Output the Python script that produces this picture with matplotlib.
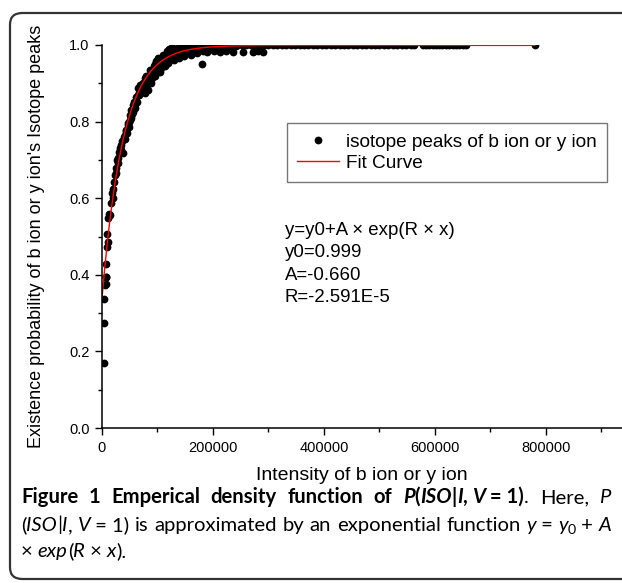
import re
import numpy as np
import matplotlib
matplotlib.use("Agg")
import matplotlib.pyplot as plt
from matplotlib.patches import FancyBboxPatch
from matplotlib.transforms import IdentityTransform

plt.rcParams['font.family'] = ['Liberation Sans', 'DejaVu Sans']

# isotope peaks, intensity in thousands and existence probability
peak_x_k = [3, 4, 4, 8, 8, 6.6, 5, 6.6, 8.4, 10, 8.5, 11, 12.6, 14, 16, 18.6, 20, 19,
            22, 24.6, 23, 26, 28, 27, 29, 31, 32, 35, 36, 38, 34, 39, 41, 43, 44, 46,
            47, 49, 50, 52, 53, 55, 56, 58, 59, 60, 62, 63, 65, 66, 68, 69, 71, 72,
            74, 75, 77, 77, 79, 80, 81, 83, 84, 86, 87, 88, 90, 92, 94, 95, 97, 98,
            100, 101, 103, 105, 107, 109, 110, 112, 113, 115, 117, 119, 120, 122,
            125, 126, 128, 130, 131, 133, 135, 137, 139, 141, 143, 146, 148, 150,
            152, 155, 158, 161, 164, 168, 172, 176, 180, 182, 186, 189, 193, 197,
            201, 206, 212, 218, 224, 230, 236, 242, 254, 272, 281, 290,
            42, 45, 48, 51, 54, 57, 61, 64, 67, 70, 73, 76, 78, 82, 85, 89, 91, 93,
            96, 99, 102, 104, 106, 108, 111, 114, 116, 118, 121, 124, 127, 129, 132,
            134, 136, 138, 140, 144, 147, 151, 154, 157, 160, 166, 170, 175]
peak_y = [0.17, 0.274, 0.337, 0.376, 0.394, 0.395, 0.373, 0.428, 0.473, 0.486, 0.507,
          0.548, 0.559, 0.555, 0.587, 0.613, 0.624, 0.60, 0.643, 0.665, 0.66, 0.679,
          0.692, 0.70, 0.705, 0.72, 0.731, 0.739, 0.75, 0.718, 0.725, 0.76, 0.765,
          0.775, 0.778, 0.79, 0.796, 0.80, 0.817, 0.83, 0.81, 0.843, 0.825, 0.852,
          0.835, 0.845, 0.865, 0.85, 0.887, 0.87, 0.896, 0.875, 0.892, 0.88, 0.90,
          0.885, 0.875, 0.914, 0.905, 0.92, 0.895, 0.882, 0.91, 0.922, 0.935, 0.90,
          0.915, 0.93, 0.945, 0.92, 0.935, 0.957, 0.94, 0.965, 0.95, 0.93, 0.94,
          0.96, 0.975, 0.95, 0.944, 0.97, 0.985, 0.953, 0.99, 0.97, 0.965, 0.995,
          0.987, 0.96, 0.97, 0.99, 0.975, 0.991, 0.965, 0.995, 0.978, 0.985, 0.97,
          0.995, 0.98, 0.982, 0.99, 0.975, 0.995, 0.987, 0.98, 0.995, 0.95, 0.985,
          0.991, 0.983, 0.995, 0.991, 0.985, 0.998, 0.983, 0.998, 0.985, 0.998,
          0.982, 0.998, 0.983, 0.982, 0.984, 0.982,
          0.755, 0.77, 0.785, 0.805, 0.82, 0.84, 0.855, 0.87, 0.875, 0.885, 0.895,
          0.90, 0.895, 0.905, 0.915, 0.925, 0.935, 0.94, 0.95, 0.945, 0.955, 0.96,
          0.945, 0.965, 0.96, 0.965, 0.975, 0.98, 0.975, 0.985, 0.975, 0.985, 0.98,
          0.985, 0.99, 0.98, 0.99, 0.985, 0.99, 0.99, 0.985, 0.99, 0.995, 0.99,
          0.993, 0.99]

# peaks that sit on the 1.0 line
top_x_k = [180, 188, 196, 204, 212, 220, 228, 236, 244, 252, 260, 268, 276, 284, 292,
           300, 308, 316, 324, 332, 340, 348, 356, 364, 372, 380, 388, 396, 404, 412,
           420, 428, 436, 444, 452, 460, 468, 476, 484, 492, 500, 508, 516, 524, 532,
           540, 548, 556, 562, 578, 584, 590, 596, 602, 608, 612, 620, 626, 632, 638,
           644, 650, 655, 780]
top_y = [1.0] * len(top_x_k)

# fit parameters shown on the chart
y0 = 0.999
A = -0.660
R = -2.591e-5
fit_end = 780000

W, H = 622, 583
fig = plt.figure(figsize=(W / 100, H / 100), dpi=100)
ax = fig.add_axes([102 / W, 1 - 428 / H, 1 - 102 / W, (428 - 45) / H])

xs = np.concatenate([np.array(peak_x_k), np.array(top_x_k)]) * 1000
ys = np.concatenate([peak_y, top_y])
ax.plot(xs, ys, 'o', color='black', ms=5.6, mew=0, label='isotope peaks of b ion or y ion')

fx = np.linspace(0, fit_end, 500)
ax.plot(fx, y0 + A * np.exp(R * fx), color='red', lw=1.0, label='Fit Curve')

ax.set_xlim(0, 937000)
ax.set_ylim(0, 1.0)
ax.set_xticks([0, 200000, 400000, 600000, 800000])
ax.set_xticks([100000, 300000, 500000, 700000, 900000], minor=True)
ax.set_yticks([0.0, 0.2, 0.4, 0.6, 0.8, 1.0])
ax.set_yticks([0.1, 0.3, 0.5, 0.7, 0.9], minor=True)
ax.set_yticklabels(['0.0', '0.2', '0.4', '0.6', '0.8', '1.0'])
ax.tick_params(which='major', direction='out', length=5, width=1, labelsize=10.5, pad=4)
ax.tick_params(which='minor', direction='out', length=3, width=1)
for s in ['top', 'right']:
    ax.spines[s].set_visible(False)
for s in ['left', 'bottom']:
    ax.spines[s].set_linewidth(1.1)

ax.set_xlabel('Intensity of b ion or y ion', fontsize=14, labelpad=9)
ax.set_ylabel("Existence probability of b ion or y ion's Isotope peaks", fontsize=13, labelpad=17)

leg = ax.legend(loc='upper left', bbox_to_anchor=(287 / W, 1 - 123 / H),
                bbox_transform=fig.transFigure, fontsize=13.7, frameon=True,
                fancybox=False, edgecolor='#555555', handlelength=2.2,
                handletextpad=0.35, borderpad=0.55, labelspacing=0.2,
                borderaxespad=0)
leg.get_frame().set_linewidth(1.0)

ax.text(285 / W, 1 - 264 / H,
        "y=y0+A \u00d7 exp(R \u00d7 x)\ny0=0.999\nA=-0.660\nR=-2.591E-5",
        transform=fig.transFigure, fontsize=13.4, va='center', ha='left',
        linespacing=1.42)

# outer rounded frame
frame = FancyBboxPatch((10 / W, 1 - 579 / H), 700 / W, (579 - 13) / H,
                       boxstyle="round,pad=0,rounding_size=0.02",
                       transform=fig.transFigure, fill=False,
                       edgecolor='#333333', lw=1.6, clip_on=False)
fig.patches.append(frame)

# caption, drawn run by run, first two lines justified
cap_font = ['Lato', 'DejaVu Sans']
renderer = fig.canvas.get_renderer()


def width_of(s, **kw):
    t1 = fig.text(0, 0, '|' + s + '|', transform=IdentityTransform(), **kw)
    t2 = fig.text(0, 0, '||', transform=IdentityTransform(), **kw)
    w = t1.get_window_extent(renderer).width - t2.get_window_extent(renderer).width
    t1.remove()
    t2.remove()
    return w


def tokens(parts, size):
    items = []
    for s, weight, style, dy, scale in parts:
        kw = dict(family=cap_font, size=size * scale, weight=weight, style=style)
        for tok in re.split(r'( )', s):
            if tok:
                items.append((tok, kw, dy))
    return items, [width_of(t, **kw) for t, kw, dy in items]


def runs(x0, y, parts, size, right=None):
    # dy > 0 lowers the run (used for the subscript)
    items, widths = tokens(parts, size)
    nsp = sum(1 for t, _, _ in items if t == ' ')
    extra = 0
    if right is not None and nsp:
        extra = (right - x0 - sum(widths)) / nsp
    x = x0
    for (t, kw, dy), w in zip(items, widths):
        if t == ' ':
            x += w + extra
            continue
        fig.text(x, H - y - dy, t.replace('\u00a0', ' '), transform=IdentityTransform(),
                 va='baseline', **kw)
        x += w


B, N, I = 'bold', 'normal', 'italic'
nb = '\u00a0'
line1 = [
    ('Figure 1 Emperical density function of ', B, N, 0, 1),
    ('P', B, I, 0, 1), ('(', B, N, 0, 1), ('ISO', B, I, 0, 1),
    ('|', B, N, 0, 1), ('I', B, I, 0, 1), (',' + nb, B, N, 0, 1),
    ('V', B, I, 0, 1), (nb + '=' + nb + '1)', B, N, 0, 1),
    ('. Here, ', N, N, 0, 1), ('P', N, I, 0, 1)]
line2 = [
    ('(', N, N, 0, 1), ('ISO', N, I, 0, 1), ('|', N, N, 0, 1),
    ('I', N, I, 0, 1), (',' + nb, N, N, 0, 1), ('V', N, I, 0, 1),
    (nb + '=' + nb + '1) is approximated by an exponential function ', N, N, 0, 1),
    ('y', N, I, 0, 1), (nb + '=' + nb, N, N, 0, 1), ('y', N, I, 0, 1),
    ('0', N, N, 3.5, 0.7), (nb + '+ ', N, N, 0, 1), ('A', N, I, 0, 1)]
line3 = [
    ('\u00d7' + nb, N, N, 0, 1), ('exp', N, I, 0, 1), ('(', N, N, 0, 1),
    ('R', N, I, 0, 1), (nb + '\u00d7' + nb, N, N, 0, 1), ('x', N, I, 0, 1),
    (').', N, N, 0, 1)]

# pick the caption size so that line 2 fills the width with plain spacing
_, w2 = tokens(line2, 13)
cap_size = 13 * 584 / sum(w2)

runs(21, 503, line1, cap_size, right=611)
runs(21, 531, line2, cap_size, right=611)
runs(21, 557, line3, cap_size)

fig.savefig('out.png', dpi=100)
